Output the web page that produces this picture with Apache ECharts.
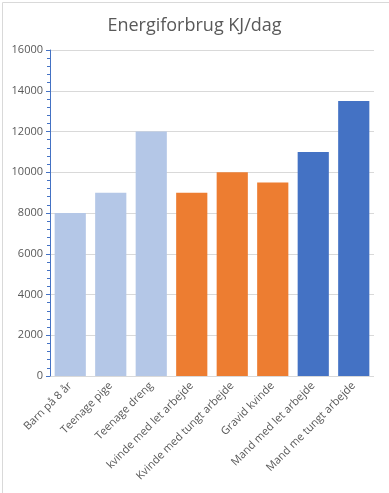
<!DOCTYPE html>
<html><head><meta charset="utf-8">
<script src="https://cdn.jsdelivr.net/npm/echarts@6/dist/echarts.min.js"></script>
<style>html,body{margin:0;padding:0;background:#fff}#c{width:389px;height:493px}</style>
</head><body><div id="c"></div>
<script>
const categories = ["Barn på 8 år","Teenage pige","Teenage dreng","kvinde med let arbejde","Kvinde med tungt arbejde","Gravid kvinde","Mand med let arbejde","Mand me tungt arbejde"];
const values = [8000, 9000, 12000, 9000, 10000, 9500, 11000, 13500];
const groups = [0, 0, 0, 1, 1, 1, 2, 2];
const palette = ["#B4C7E7", "#ED7D31", "#4472C4"];
const yTicks = {min: 0, max: 16000, interval: 2000};

const chart = echarts.init(document.getElementById('c'), null, {renderer: 'canvas'});
const font = "'Open Sans', 'Liberation Sans', sans-serif";
chart.setOption({
  animation: false,
  title: {text: 'Energiforbrug KJ/dag', left: 'center', top: 12,
    textStyle: {fontFamily: font, fontSize: 18, fontWeight: 'normal', color: '#595959'}},
  graphic: [{type: 'rect', left: 0, top: 0, shape: {x: 0.5, y: 0.5, width: 388, height: 492},
    style: {fill: 'none', stroke: '#d9d9d9', lineWidth: 1}, silent: true}],
  grid: {left: 50, top: 50, right: 15, bottom: 117, containLabel: false},
  xAxis: {type: 'category', data: categories,
    axisLine: {show: false}, axisTick: {show: false},
    axisLabel: {rotate: 45, interval: 0, margin: 8, fontFamily: font, fontSize: 11, color: '#595959'}},
  yAxis: {type: 'value', min: yTicks.min, max: yTicks.max, interval: yTicks.interval,
    axisLine: {show: true, lineStyle: {color: '#4472C4', width: 1}},
    axisTick: {show: true, length: 4, lineStyle: {color: '#4472C4'}},
    minorTick: {show: true, splitNumber: 5, length: 3, lineStyle: {color: '#4472C4'}},
    splitLine: {lineStyle: {color: '#d9d9d9', width: 1}},
    axisLabel: {margin: 7, fontFamily: font, fontSize: 11, color: '#595959', formatter: v => String(v)}},
  series: [{type: 'bar', barCategoryGap: '23%',
    data: values.map((v, i) => ({value: v, itemStyle: {color: palette[groups[i]]}}))}]
});
</script></body></html>
